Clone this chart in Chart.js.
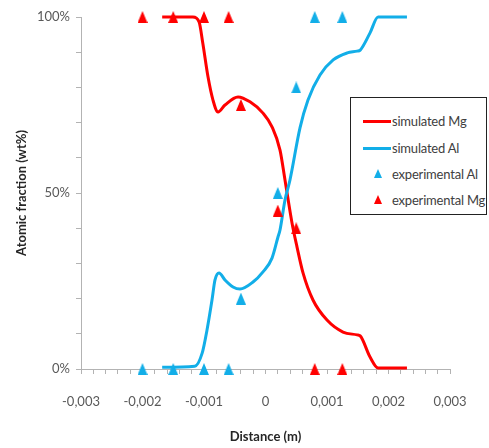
<!DOCTYPE html>
<html>
<head>
<meta charset="utf-8">
<script src="https://cdn.jsdelivr.net/npm/chart.js@4.4.1/dist/chart.umd.min.js"></script>
<style>
  body { margin: 0; background: #fff; }
  #wrap { position: relative; width: 489px; height: 448px; }
  #legend {
    position: absolute; left: 350px; top: 97px; width: 135px; height: 116px;
    border: 1px solid #222; background: #fff;
    font: 13px Lato, sans-serif; color: #404040; letter-spacing: -0.2px;
  }
  .item { position: absolute; left: 0; width: 100%; height: 16px; line-height: 16px; white-space: nowrap; }
  .line { position: absolute; left: 12px; top: 7px; width: 28px; height: 3px; }
  .tri {
    position: absolute; left: 23px; top: 3px; width: 0; height: 0;
    border-left: 4px solid transparent; border-right: 4px solid transparent;
    border-bottom-width: 9px; border-bottom-style: solid;
  }
  .txt { position: absolute; left: 41px; top: 0; }
</style>
</head>
<body>
<div id="wrap">
  <canvas id="chart" width="489" height="448"></canvas>
  <div id="legend"></div>
</div>
<script>
const FONT = "Lato, sans-serif";
const RED = "#ff0000";
const BLUE = "#12aee8";

// axis labels
const xTickLabels = [-0.003, -0.002, -0.001, 0, 0.001, 0.002, 0.003];
const yTickLabels = [0, 50, 100];

// simulated profiles
const simMgX = [-0.00168, -0.00118, -0.00108, -0.00102, -0.000935, -0.000854, -0.000772, -0.000659,
  -0.000447, -0.000252, -0.000041, 0.000106, 0.000236, 0.000317, 0.000431, 0.000512, 0.00061,
  0.000772, 0.001, 0.00126, 0.00149, 0.00154, 0.0017, 0.00183, 0.0023];
const simMgY = [100, 100, 98.6, 92.6, 83, 76.4, 73, 75, 77.3, 75.9, 72.7, 68.8, 62.2, 53.7, 41.5,
  34.7, 27.3, 19.6, 13.9, 10.5, 9.7, 9.4, 3.4, 0.3, 0.3];

const simAlX = [-0.00168, -0.00115, -0.00103, -0.000951, -0.00087, -0.000821, -0.000756, -0.000659,
  -0.000528, -0.000415, -0.000203, -0.000041, 0.000106, 0.000203, 0.000236, 0.000317, 0.000398,
  0.000561, 0.000691, 0.000886, 0.0011, 0.00133, 0.00149, 0.00154, 0.0017, 0.00183, 0.0023];
const simAlY = [0.5, 0.8, 4.5, 11.1, 19.6, 25.3, 27.3, 25.3, 23.3, 22.7, 24.7, 27.6, 31.5, 37.5,
  39.5, 48, 53.7, 68.5, 76.4, 83.5, 87.8, 89.8, 90.3, 90.6, 95.5, 100, 100];

// measured points
const expAlX = [-0.002, -0.0015, -0.001, -0.0006, -0.0004, 0.0002, 0.0005, 0.0008, 0.00125];
const expAlY = [0, 0, 0, 0, 20, 50, 80, 100, 100];
const expMgX = [-0.002, -0.0015, -0.001, -0.0006, -0.0004, 0.0002, 0.0005, 0.0008, 0.00125];
const expMgY = [100, 100, 100, 100, 75, 45, 40, 0, 0];

function pts(xs, ys) {
  return xs.map((x, i) => ({ x: x, y: ys[i] }));
}

function triangle(color) {
  const c = document.createElement("canvas");
  c.width = 10;
  c.height = 12;
  const g = c.getContext("2d");
  g.fillStyle = color;
  g.beginPath();
  g.moveTo(5, 0);
  g.lineTo(10, 12);
  g.lineTo(0, 12);
  g.closePath();
  g.fill();
  return c;
}

function fmtX(v) {
  if (Math.abs(v) < 1e-9) return "0";
  return v.toFixed(3).replace(".", ",");
}

const datasets = [
  {
    label: "experimental Mg", data: pts(expMgX, expMgY), showLine: false, clip: false,
    pointStyle: triangle(RED), backgroundColor: RED, borderColor: RED, order: 1,
  },
  {
    label: "experimental Al", data: pts(expAlX, expAlY), showLine: false, clip: false,
    pointStyle: triangle(BLUE), backgroundColor: BLUE, borderColor: BLUE, order: 2,
  },
  {
    label: "simulated Al", data: pts(simAlX, simAlY), showLine: true, pointRadius: 0, clip: false,
    borderColor: BLUE, borderWidth: 3, cubicInterpolationMode: "monotone", order: 3,
  },
  {
    label: "simulated Mg", data: pts(simMgX, simMgY), showLine: true, pointRadius: 0, clip: false,
    borderColor: RED, borderWidth: 3, cubicInterpolationMode: "monotone", order: 4,
  },
];

const chart = new Chart(document.getElementById("chart"), {
  type: "scatter",
  data: { datasets: datasets },
  options: {
    responsive: false,
    animation: false,
    layout: { padding: { top: 17, right: 39, left: 0, bottom: 0 } },
    plugins: { legend: { display: false }, tooltip: { enabled: false } },
    scales: {
      x: {
        type: "linear", min: -0.003, max: 0.003,
        afterBuildTicks: (scale) => {
          const t = [];
          for (let i = 0; i <= 30; i++) t.push({ value: +(-0.003 + i * 0.0002).toFixed(4) });
          scale.ticks = t;
        },
        afterFit: (scale) => { scale.height = 79; },
        ticks: {
          autoSkip: false, maxRotation: 0, padding: 20, color: "#595959",
          font: { family: FONT, size: 13 },
          callback: (v) => (xTickLabels.some((l) => Math.abs(l - v) < 1e-9) ? fmtX(v) : ""),
        },
        grid: { drawOnChartArea: false, tickLength: 5, color: "#b3b3b3" },
        border: { color: "#b3b3b3" },
        title: {
          display: true, text: "Distance (m)", color: "#262626",
          font: { family: FONT, size: 13, weight: "bold" }, padding: { top: 0, bottom: 3 },
        },
      },
      y: {
        min: 0, max: 100,
        afterFit: (scale) => { scale.width = 81; },
        ticks: {
          stepSize: 10, padding: 6, color: "#595959",
          font: { family: FONT, size: 13 },
          callback: (v) => (yTickLabels.includes(v) ? v + "%" : ""),
        },
        grid: { drawOnChartArea: false, tickLength: 5, color: "#b3b3b3" },
        border: { color: "#b3b3b3" },
        title: {
          display: true, text: "Atomic fraction (wt%)", color: "#262626",
          font: { family: FONT, size: 13, weight: "bold" }, padding: { top: 14, bottom: 0 },
        },
      },
    },
  },
});

// legend box drawn in html from the dataset styles
const legendOrder = ["simulated Mg", "simulated Al", "experimental Al", "experimental Mg"];
const rowCentres = [23, 50, 76, 102];
const legend = document.getElementById("legend");
legendOrder.forEach((name, i) => {
  const ds = chart.data.datasets.find((d) => d.label === name);
  const row = document.createElement("div");
  row.className = "item";
  row.style.top = rowCentres[i] - 8 + "px";
  const mark = document.createElement("span");
  if (ds.showLine) {
    mark.className = "line";
    mark.style.background = ds.borderColor;
  } else {
    mark.className = "tri";
    mark.style.borderBottomColor = ds.backgroundColor;
  }
  const txt = document.createElement("span");
  txt.className = "txt";
  txt.textContent = name;
  row.appendChild(mark);
  row.appendChild(txt);
  legend.appendChild(row);
});
</script>
</body>
</html>
